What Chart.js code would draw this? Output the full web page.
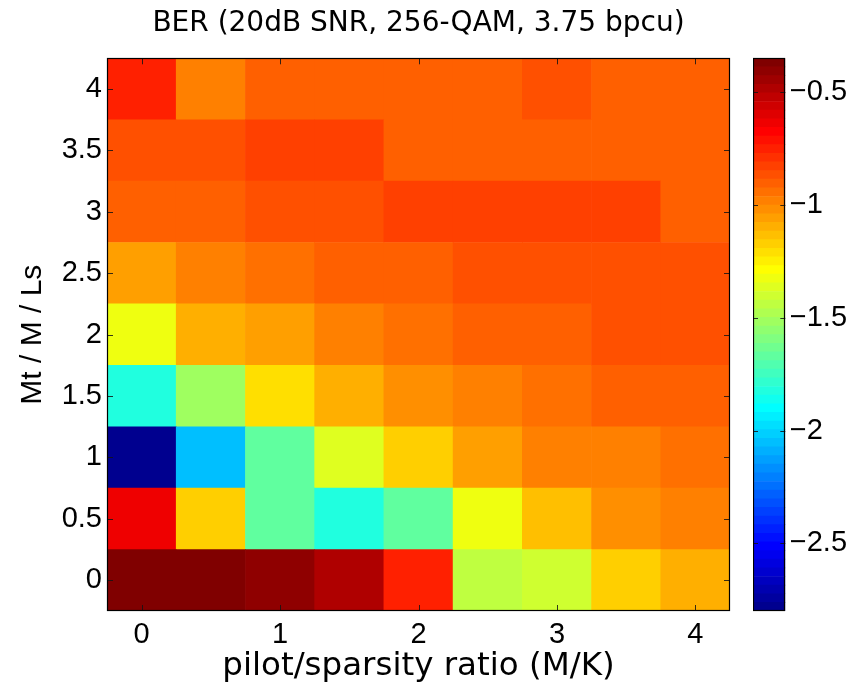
<!DOCTYPE html>
<html>
<head>
<meta charset="utf-8">
<script src="https://cdn.jsdelivr.net/npm/chart.js@4/dist/chart.umd.min.js"></script>
<style>
  html, body { margin: 0; padding: 0; background: #ffffff; }
  #wrap { position: relative; width: 865px; height: 686px; overflow: hidden; }
  canvas { position: absolute; top: 0; }
</style>
</head>
<body>
<div id="wrap">
  <canvas id="main" width="865" height="686" style="left:0px"></canvas>
  <canvas id="cbar" width="112" height="686" style="left:753px"></canvas>
</div>
<script>
// ---------------- DATA ----------------
const titleText = 'BER (20dB SNR, 256-QAM, 3.75 bpcu)';
const xTitleText = 'pilot/sparsity ratio (M/K)';
const yTitleText = 'Mt / M / Ls';

// pilot/sparsity ratio (x categories)
const xValues = [0, 0.5, 1, 1.5, 2, 2.5, 3, 3.5, 4];
// Mt / M / Ls (y categories)
const yValues = [0, 0.5, 1, 1.5, 2, 2.5, 3, 3.5, 4];

// log10(BER) per row (one array per y value, left to right along x)
const berRowY0   = [-0.35, -0.35, -0.41, -0.48, -0.75, -1.44, -1.40, -1.17, -1.10];
const berRowY0_5 = [-0.64, -1.17, -1.67, -1.82, -1.67, -1.33, -1.13, -1.02, -0.98];
const berRowY1   = [-2.80, -2.05, -1.67, -1.36, -1.17, -1.06, -0.98, -0.98, -0.94];
const berRowY1_5 = [-1.82, -1.52, -1.21, -1.10, -1.02, -0.98, -0.94, -0.91, -0.91];
const berRowY2   = [-1.33, -1.10, -1.06, -0.98, -0.94, -0.91, -0.91, -0.87, -0.87];
const berRowY2_5 = [-1.06, -0.98, -0.94, -0.91, -0.91, -0.87, -0.87, -0.87, -0.87];
const berRowY3   = [-0.91, -0.91, -0.87, -0.87, -0.83, -0.83, -0.83, -0.83, -0.91];
const berRowY3_5 = [-0.87, -0.87, -0.83, -0.83, -0.91, -0.91, -0.91, -0.91, -0.91];
const berRowY4   = [-0.75, -0.98, -0.91, -0.91, -0.91, -0.91, -0.87, -0.91, -0.91];

const berRows = [berRowY0, berRowY0_5, berRowY1, berRowY1_5, berRowY2, berRowY2_5, berRowY3, berRowY3_5, berRowY4];

// tick labels
const xTicks = [0, 1, 2, 3, 4];
const yTicks = [0, 0.5, 1, 1.5, 2, 2.5, 3, 3.5, 4];
const cbarTicks = [-2.5, -2, -1.5, -1, -0.5];

// ---------------- COLOUR MAP (MATLAB jet, 64 levels) ----------------
const N_COLORS = 64;
const allVals = berRows.flat();
const vMin = Math.min(...allVals);
const vMax = Math.max(...allVals);

function clamp01(v) { return Math.max(0, Math.min(1, v)); }
function jetIndexColor(i) { // i = 1..64
  const r = clamp01(Math.min((i - 24) / 16, (72 - i) / 16));
  const g = clamp01(Math.min((i - 8) / 16, (56 - i) / 16));
  const b = clamp01(Math.min((i + 8) / 16, (40 - i) / 16));
  return 'rgb(' + Math.round(r * 255) + ',' + Math.round(g * 255) + ',' + Math.round(b * 255) + ')';
}
function valueToColor(v) {
  let i = Math.floor((v - vMin) / (vMax - vMin) * N_COLORS) + 1;
  i = Math.max(1, Math.min(N_COLORS, i));
  return jetIndexColor(i);
}

// ---------------- FONTS ----------------
const tickFont = { family: "'Liberation Sans', Arial, Helvetica, sans-serif", size: 29, weight: 'normal', lineHeight: 1.2 };
const latexFont = "'DejaVu Sans', 'Liberation Sans', sans-serif";

// ---------------- PLUGINS (frame + inward tick marks) ----------------
function frameTicksPlugin(id, xTickVals, yTickVals, len) {
  return {
    id: id,
    afterDatasetsDraw(chart) {
      const { ctx, chartArea: a, scales } = chart;
      ctx.save();
      ctx.lineWidth = 1;
      ctx.strokeStyle = 'rgba(20,20,20,0.85)';
      ctx.beginPath();
      if (xTickVals && scales.x) {
        for (const v of xTickVals) {
          const px = Math.round(scales.x.getPixelForValue(v)) + 0.5;
          ctx.moveTo(px, a.bottom); ctx.lineTo(px, a.bottom - len);
          ctx.moveTo(px, a.top); ctx.lineTo(px, a.top + len);
        }
      }
      if (yTickVals && scales.y) {
        for (const v of yTickVals) {
          const py = Math.round(scales.y.getPixelForValue(v)) + 0.5;
          ctx.moveTo(a.left, py); ctx.lineTo(a.left + len, py);
          ctx.moveTo(a.right, py); ctx.lineTo(a.right - len, py);
        }
      }
      ctx.stroke();
      ctx.strokeStyle = '#000';
      ctx.lineWidth = 1.2;
      const l = Math.round(a.left) + 0.5, t = Math.round(a.top) + 0.5;
      const r = Math.round(a.right) - 0.5, b = Math.round(a.bottom) - 0.5;
      ctx.strokeRect(l, t, r - l, b - t);
      ctx.restore();
    }
  };
}

// ---------------- MAIN HEATMAP ----------------
const heatDatasets = berRows.map((row, r) => ({
  label: 'Mt/M/Ls = ' + yValues[r],
  data: row.map((v, c) => ({ x: xValues[c], y: [yValues[r] - 0.25, yValues[r] + 0.25], v: v })),
  backgroundColor: row.map(valueToColor),
  borderWidth: 0,
  grouped: false,
  barPercentage: 1,
  categoryPercentage: 1
}));

new Chart(document.getElementById('main'), {
  type: 'bar',
  data: { datasets: heatDatasets },
  options: {
    responsive: false,
    animation: false,
    events: [],
    layout: { padding: { left: 0, right: 135, top: 0, bottom: 0 } },
    plugins: {
      legend: { display: false },
      tooltip: { enabled: false },
      title: {
        display: true,
        text: titleText,
        fullSize: false,
        color: '#000',
        font: { family: latexFont, size: 28, weight: 'normal', lineHeight: 1.2 },
        padding: { top: 7, bottom: 17.7 }
      }
    },
    scales: {
      x: {
        type: 'linear',
        offset: false,
        min: xValues[0] - 0.25,
        max: xValues[xValues.length - 1] + 0.25,
        afterBuildTicks: (s) => { s.ticks = xTicks.map(v => ({ value: v })); },
        afterFit: (s) => { s.height = 75; },
        grid: { display: false, drawTicks: false, offset: false },
        border: { display: false },
        ticks: { color: '#000', font: tickFont, padding: 7, maxRotation: 0, autoSkip: false, callback: (v) => String(v) },
        title: { display: true, text: xTitleText, color: '#000', font: { family: latexFont, size: 32.5, weight: 'normal', lineHeight: 1.2 }, padding: { top: 0, bottom: 0 } }
      },
      y: {
        type: 'linear',
        min: yValues[0] - 0.25,
        max: yValues[yValues.length - 1] + 0.25,
        afterBuildTicks: (s) => { s.ticks = yTicks.map(v => ({ value: v })); },
        afterFit: (s) => { s.width = 107; },
        grid: { display: false, drawTicks: false },
        border: { display: false },
        ticks: { color: '#000', font: tickFont, padding: 5, autoSkip: false, callback: (v) => String(v) },
        title: { display: true, text: yTitleText, color: '#000', font: { family: "'Liberation Sans', Arial, sans-serif", size: 30, weight: 'normal', lineHeight: 1.2 }, padding: { top: 15, bottom: 0 } }
      }
    }
  },
  plugins: [frameTicksPlugin('mainFrame', xTicks, yTicks, 6)]
});

// ---------------- COLOUR BAR ----------------
const cbarDatasets = [];
for (let i = 1; i <= N_COLORS; i++) {
  const lo = vMin + (i - 1) * (vMax - vMin) / N_COLORS;
  const hi = vMin + i * (vMax - vMin) / N_COLORS;
  cbarDatasets.push({
    label: 'c' + i,
    data: [[lo, hi]],
    backgroundColor: jetIndexColor(i),
    borderWidth: 0,
    grouped: false,
    barPercentage: 1,
    categoryPercentage: 1
  });
}

new Chart(document.getElementById('cbar'), {
  type: 'bar',
  data: { labels: [''], datasets: cbarDatasets },
  options: {
    responsive: false,
    animation: false,
    events: [],
    layout: { padding: { left: 0, right: 0, top: 58.3, bottom: 75 } },
    plugins: { legend: { display: false }, tooltip: { enabled: false }, title: { display: false } },
    scales: {
      x: { display: false },
      y: {
        position: 'right',
        min: vMin,
        max: vMax,
        afterBuildTicks: (s) => { s.ticks = cbarTicks.map(v => ({ value: v })); },
        afterFit: (s) => { s.width = 79.7; },
        grid: { display: false, drawTicks: false },
        border: { display: false },
        ticks: { color: '#000', font: tickFont, padding: 4.5, autoSkip: false, callback: (v) => String(v).replace('-', '\u2212') }
      }
    }
  },
  plugins: [frameTicksPlugin('cbarFrame', null, cbarTicks, 5)]
});
</script>
</body>
</html>
